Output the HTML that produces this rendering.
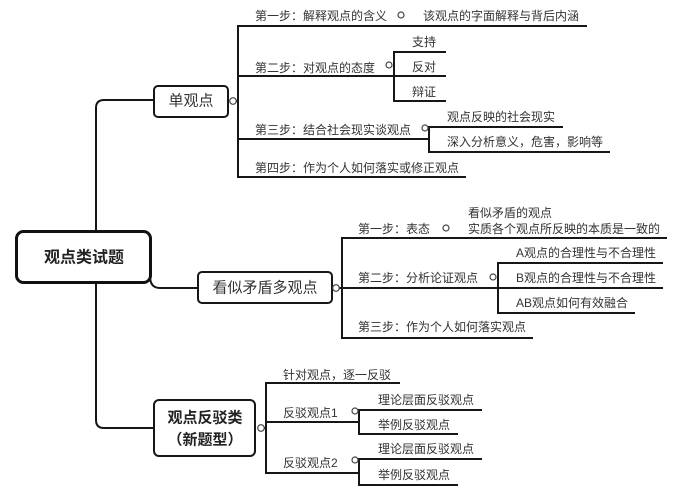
<!DOCTYPE html>
<html>
<head>
<meta charset="utf-8">
<style>
  html,body{margin:0;padding:0;background:#fff;}
  body{width:680px;height:499px;overflow:hidden;}
  svg{display:block;}
  text{font-family:"Liberation Sans","Noto Sans CJK SC",sans-serif;fill:#333;dominant-baseline:central;}
  .s{font-size:12px;}
  .m{font-size:15px;}
  .b{font-weight:bold;fill:#222;}
</style>
</head>
<body>
<svg width="680" height="499" viewBox="0 0 680 499" xmlns="http://www.w3.org/2000/svg">
  <g fill="none" stroke="#161616" stroke-width="2">
    <!-- trunk -->
    <path d="M154 100 H104 Q96 100 96 108 V420 Q96 428 104 428 H154"/>
    <!-- root to middle -->
    <path d="M150 276 Q150 288 160 288 H198"/>

    <!-- 单观点 branch -->
    <line x1="236" y1="101" x2="238" y2="101"/>
    <line x1="238" y1="25" x2="238" y2="178"/>
    <line x1="237" y1="26" x2="587" y2="26"/>
    <line x1="237" y1="76" x2="446" y2="76"/>
    <line x1="394" y1="51" x2="394" y2="102"/>
    <line x1="393" y1="52" x2="446" y2="52"/>
    <line x1="393" y1="101" x2="446" y2="101"/>
    <line x1="237" y1="139" x2="429" y2="139"/>
    <line x1="429" y1="126" x2="429" y2="153"/>
    <line x1="428" y1="127" x2="563" y2="127"/>
    <line x1="428" y1="152" x2="610" y2="152"/>
    <line x1="237" y1="177" x2="466" y2="177"/>

    <!-- 看似矛盾多观点 branch -->
    <line x1="339" y1="288" x2="342" y2="288"/>
    <line x1="342" y1="237" x2="342" y2="339"/>
    <line x1="341" y1="238" x2="667" y2="238"/>
    <line x1="341" y1="288" x2="663" y2="288"/>
    <line x1="498" y1="262" x2="498" y2="314"/>
    <line x1="497" y1="263" x2="663" y2="263"/>
    <line x1="497" y1="313" x2="635" y2="313"/>
    <line x1="341" y1="338" x2="533" y2="338"/>

    <!-- 观点反驳类 branch -->
    <line x1="264" y1="428" x2="266" y2="428"/>
    <line x1="266" y1="382" x2="266" y2="474"/>
    <line x1="265" y1="383" x2="400" y2="383"/>
    <line x1="265" y1="422" x2="359" y2="422"/>
    <line x1="359" y1="409" x2="359" y2="435"/>
    <line x1="358" y1="410" x2="482" y2="410"/>
    <line x1="358" y1="434" x2="458" y2="434"/>
    <line x1="265" y1="473" x2="359" y2="473"/>
    <line x1="359" y1="458" x2="359" y2="486"/>
    <line x1="358" y1="459" x2="482" y2="459"/>
    <line x1="358" y1="485" x2="458" y2="485"/>
  </g>

  <!-- boxes -->
  <rect x="16.5" y="231.5" width="134" height="51" rx="7" fill="#fff" stroke="#111" stroke-width="3"/>
  <rect x="154" y="86" width="74" height="31" rx="4" fill="#fff" stroke="#161616" stroke-width="2"/>
  <rect x="198" y="272" width="134" height="31" rx="4" fill="#fff" stroke="#161616" stroke-width="2"/>
  <rect x="154" y="400" width="101" height="56" rx="5" fill="#fff" stroke="#161616" stroke-width="2"/>

  <!-- circles -->
  <g fill="#fff" stroke="#444" stroke-width="1.2">
    <circle cx="233" cy="101" r="3.3"/>
    <circle cx="401" cy="15" r="3"/>
    <circle cx="389" cy="65" r="3"/>
    <circle cx="425" cy="128" r="3"/>
    <circle cx="336" cy="288" r="3.3"/>
    <circle cx="446" cy="228" r="3"/>
    <circle cx="493" cy="277" r="3"/>
    <circle cx="261" cy="428" r="3.3"/>
    <circle cx="355" cy="411" r="3"/>
    <circle cx="355" cy="460" r="3"/>
  </g>

  <!-- box labels -->
  <text x="84" y="258" text-anchor="middle" class="b" style="font-size:16px">观点类试题</text>
  <text x="191" y="101" text-anchor="middle" class="m">单观点</text>
  <text x="265" y="288" text-anchor="middle" class="m">看似矛盾多观点</text>
  <text x="205" y="418" text-anchor="middle" class="m b">观点反驳类</text>
  <text x="205" y="440" text-anchor="middle" class="m b">（新题型）</text>

  <!-- 单观点 texts -->
  <text x="255" y="16" class="s">第一步：解释观点的含义</text>
  <text x="423" y="16" class="s">该观点的字面解释与背后内涵</text>
  <text x="255" y="68" class="s">第二步：对观点的态度</text>
  <text x="412" y="42" class="s">支持</text>
  <text x="412" y="67" class="s">反对</text>
  <text x="412" y="92" class="s">辩证</text>
  <text x="255" y="130" class="s">第三步：结合社会现实谈观点</text>
  <text x="447" y="117" class="s">观点反映的社会现实</text>
  <text x="447" y="142" class="s">深入分析意义，危害，影响等</text>
  <text x="255" y="168" class="s">第四步：作为个人如何落实或修正观点</text>

  <!-- 看似矛盾 texts -->
  <text x="358" y="229" class="s">第一步：表态</text>
  <text x="468" y="213" class="s">看似矛盾的观点</text>
  <text x="468" y="229" class="s">实质各个观点所反映的本质是一致的</text>
  <text x="358" y="278" class="s">第二步：分析论证观点</text>
  <text x="516" y="253" class="s">A观点的合理性与不合理性</text>
  <text x="516" y="278" class="s">B观点的合理性与不合理性</text>
  <text x="516" y="303" class="s">AB观点如何有效融合</text>
  <text x="358" y="327" class="s">第三步：作为个人如何落实观点</text>

  <!-- 观点反驳类 texts -->
  <text x="283" y="375" class="s">针对观点，逐一反驳</text>
  <text x="283" y="413" class="s">反驳观点1</text>
  <text x="378" y="400" class="s">理论层面反驳观点</text>
  <text x="378" y="425" class="s">举例反驳观点</text>
  <text x="283" y="463" class="s">反驳观点2</text>
  <text x="378" y="449" class="s">理论层面反驳观点</text>
  <text x="378" y="475" class="s">举例反驳观点</text>
</svg>
</body>
</html>
